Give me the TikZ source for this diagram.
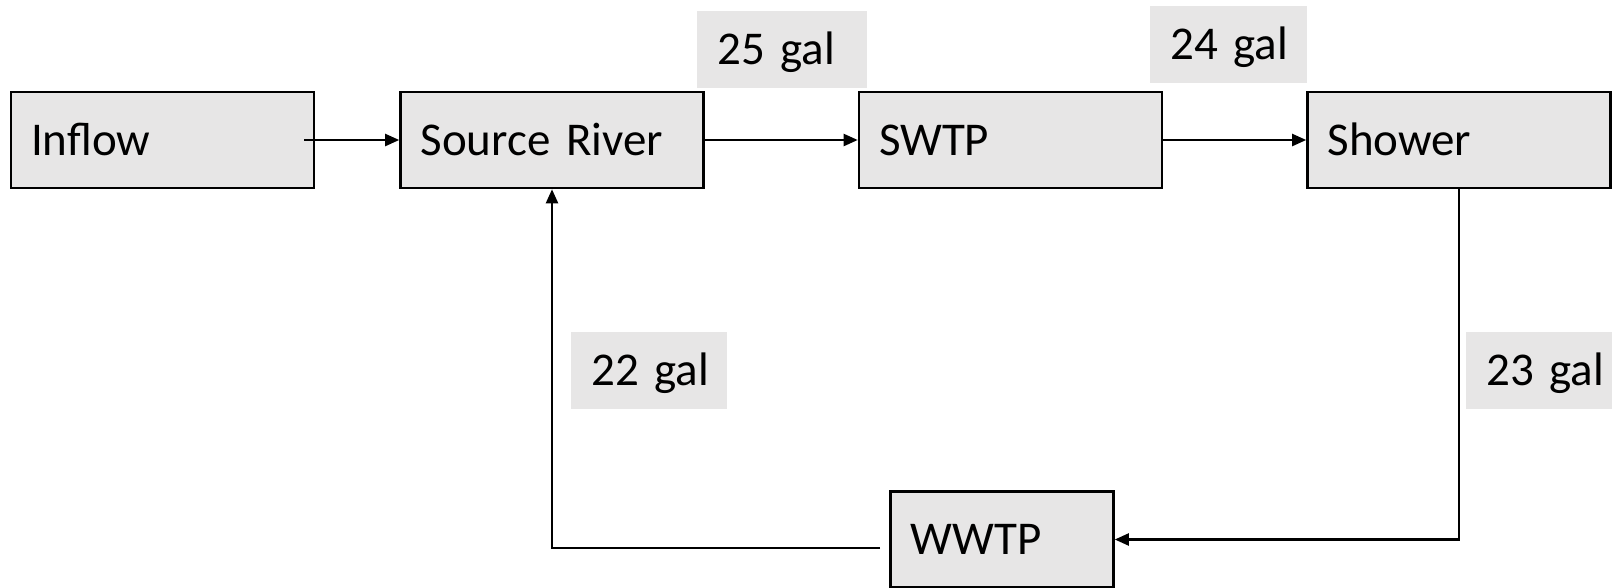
\documentclass[tikz,border=0pt]{standalone}
\usepackage{fontspec}
\setmainfont{Carlito}
\usetikzlibrary{arrows.meta}
\definecolor{boxgray}{HTML}{E7E6E6}
\begin{document}
\begin{tikzpicture}[x=1pt, y=-1pt, font=\fontsize{47}{56}\selectfont, >={Triangle[length=14pt,width=12pt]},
	unit/.style={draw, line width=2.6pt, fill=boxgray, inner xsep=20pt, inner ysep=0pt, text width=#1, align=left, minimum height=96pt, text height=30pt, text depth=0pt},
	flow/.style={fill=boxgray, anchor=north west, inner xsep=20pt, inner ysep=0pt, text width=#1, align=left, minimum height=77pt, text height=30pt, text depth=0pt,
		execute at begin node={\hbox\bgroup}, execute at end node={\egroup}},
	pipe/.style={line width=2.2pt, ->}]
	\useasboundingbox (0,0) rectangle (1612,587);
	% process boxes
	\node[unit=263pt] (inflow) at (162.5,140) {Inflow};
	\node[unit=263pt] (source) at (552,140) {Source River};
	\node[unit=263pt] (swtp) at (1010.5,140) {SWTP};
	\node[unit=263pt] (shower) at (1459,140) {Shower};
	\node[unit=183pt] (wwtp) at (1002,539.5) {WWTP};
	% flow labels
	\node[flow=130pt] (q25) at (697,11) {25 gal};
	\node[flow=117pt] (q24) at (1150,6) {24 gal};
	\node[flow=116pt] (q22) at (571,332) {22 gal};
	\node[flow=114pt] (q23) at (1466,332) {23 gal};
	% connectors
	\coordinate (inflowout) at (304,140);
	\coordinate (wwtpout) at (880,548);
	\draw[pipe] (inflowout) -- (source.west);
	\draw[pipe] (source.east) -- (swtp.west);
	\draw[pipe] (swtp.east) -- (shower.west);
	\draw[pipe] (shower.south) |- (wwtp.east);
	\draw[pipe] (wwtpout) -| (source.south);
\end{tikzpicture}
\end{document}
